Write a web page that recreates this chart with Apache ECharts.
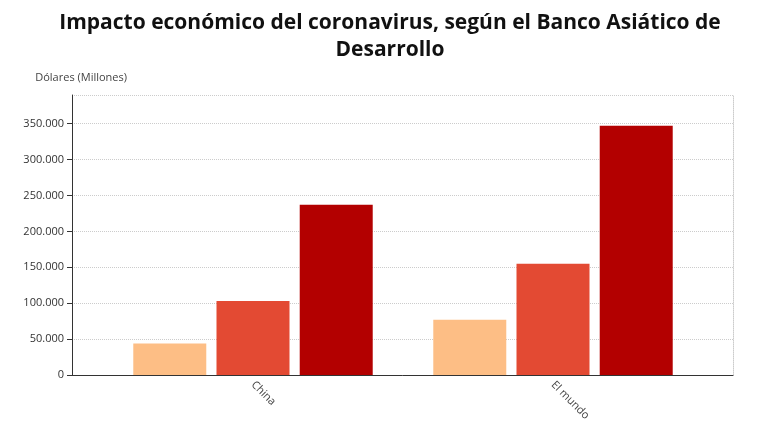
<!DOCTYPE html><html><head><meta charset="utf-8"><script src="https://cdn.jsdelivr.net/npm/echarts@6/dist/echarts.min.js"></script></head><body style="margin:0"><div id="c" style="width:780px;height:440px"></div><script>
const categories=["China","El mundo"];
const serie1=[44000,77000];
const serie2=[103000,155000];
const serie3=[237000,347000];
const colors=["#fdbe85","#e34a33","#b30000"];
const ch=echarts.init(document.getElementById('c'));
const mk=(d,i)=>({type:'bar',data:d,xAxisIndex:0,yAxisIndex:0,barWidth:73,barGap:'14%',itemStyle:{color:colors[i]}});
const fmt=v=>v===0?'0':(v/1000)+'.000';
ch.setOption({animation:false,
title:{text:'Impacto económico del coronavirus, según el Banco Asiático de\nDesarrollo',left:'center',top:5,textStyle:{fontFamily:'Open Sans',fontSize:21,fontWeight:'bold',color:'#111',lineHeight:27}},
grid:[{left:103,right:77,top:95,bottom:65},{left:72,right:47,top:95,bottom:65}],
xAxis:[{type:'category',gridIndex:0,data:categories,axisLine:{show:false},axisTick:{alignWithLabel:true,length:4,lineStyle:{color:'#333'}},axisLabel:{rotate:-45,fontFamily:'Open Sans',fontSize:11,color:'#444',margin:8}},
{type:'value',gridIndex:1,min:0,max:1,axisLine:{show:true,onZero:false,lineStyle:{color:'#333'}},axisTick:{show:false},axisLabel:{show:false},splitLine:{show:false}}],
yAxis:[{type:'value',gridIndex:0,min:0,max:390000,show:false,splitLine:{show:false}},
{type:'value',gridIndex:1,min:0,max:390000,interval:50000,name:'Dólares (Millones)',nameLocation:'end',nameGap:12,nameTextStyle:{fontFamily:'Open Sans',fontSize:11,color:'#444',align:'right',padding:[0,-55,0,0]},
axisLine:{show:true,lineStyle:{color:'#333'}},axisTick:{show:true},axisLabel:{showMaxLabel:false,fontFamily:'Open Sans',fontSize:11,color:'#333',formatter:fmt},splitLine:{lineStyle:{type:'dotted',color:'#ccc'}}},
{type:'value',gridIndex:1,position:'right',min:0,max:390000,axisLine:{show:true,lineStyle:{color:'#ccc',type:'dotted'}},axisTick:{show:false},axisLabel:{show:false},splitLine:{show:false}}],
series:[mk(serie1,0),mk(serie2,1),mk(serie3,2)]});
</script></body></html>
